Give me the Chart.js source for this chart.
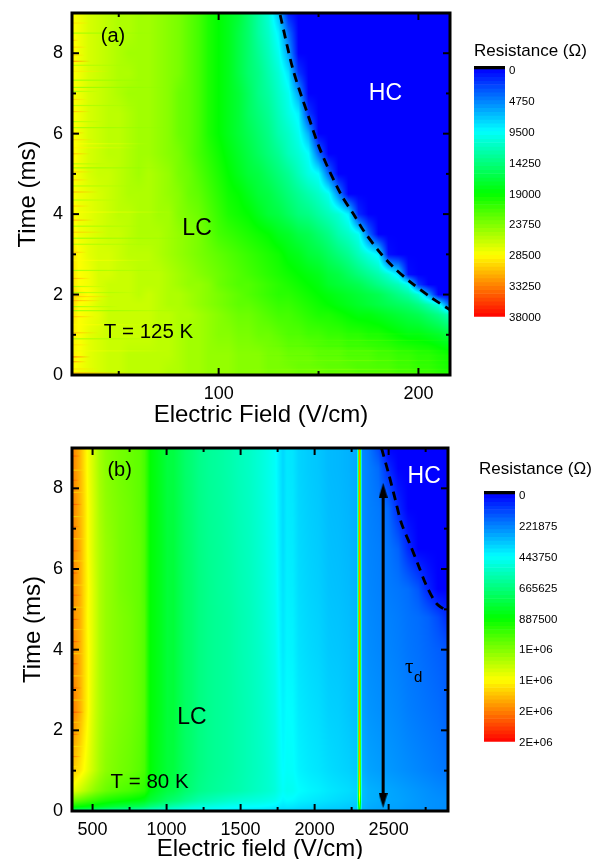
<!DOCTYPE html>
<html>
<head>
<meta charset="utf-8">
<title>Resistance maps</title>
<script src="https://cdn.jsdelivr.net/npm/chart.js@4/dist/chart.umd.js"></script>
<style>
  html, body { margin: 0; padding: 0; background: #fff; overflow: hidden; }
  #page { position: relative; width: 605px; height: 859px; overflow: hidden; }
  canvas { position: absolute; }
</style>
</head>
<body>
<div id="page">
  <canvas id="chartA" style="left:0;top:0"></canvas>
  <canvas id="barA" style="left:474px;top:38px"></canvas>
  <canvas id="chartB" style="left:0;top:436px"></canvas>
  <canvas id="barB" style="left:479px;top:452px"></canvas>
</div>
<script>
// panel (a), T = 125 K. resistance in kOhm, one row per time, columns = fieldsA
// a row that stops early is 0 for the rest of it (the HC side)
const fieldsA = [27,30,35,40,45,50,55,60,65,70,75,80,85,90,95,100,105,110,115,120,125,130,135,140,145,150,155,160,165,170,175,180,185,190,195,200,205,210,216];
const timesA = [0,0.5,1,1.5,1.75,2,2.25,2.5,3,3.5,4,4.5,5,5.5,6,6.5,7,7.5,8,8.5,9];
const resistanceA = [
  [28.5,28,27.5,27,26.5,26.5,26,26,26,26,25.5,25.5,25,25,24.5,24.5,24.5,24,24,24,23.5,23.5,23.5,23,23,23,22.5,22.5,22.5,22,22,22,22,21.5,21.5,21,21,20.5,20],
  [29,28.5,27.5,27,26.5,26.5,26,26,26,26,26,25.5,25,25,24.5,24.5,24.5,24,24,24,23.5,23.5,23,23,23,22.5,22.5,22.5,22,22,22,21.5,21.5,21,21,20.5,20.5,20,19.5],
  [29,28.5,27.5,27,26.5,26.5,26.5,26.5,26.5,26,26,25.5,25,25,24.5,24,24,23.5,23.5,23,23,22.5,22,22,21.5,21.5,21,21,20.5,20.5,20,20,19.5,19,18.5,18.5,18,17.5,16.5],
  [29.5,28.5,28,27.5,26.5,26.5,26.5,26.5,26.5,26,26,25.5,25.5,25,24.5,24,23.5,23,23,22.5,22,21.5,21.5,21,20.5,20,20,19.5,19,18.5,18.5,18,17.5,17,16.5,16,15,14,12],
  [30,28.5,28,27,26.5,26.5,26.5,26.5,26.5,26,25.5,25.5,25,24.5,24,23.5,23,22.5,22.5,22,21.5,21,21,20.5,20,19.5,19,18.5,18,17.5,17,16.5,16,15.5,15,14,12.5,10.5,3],
  [30,29,28.5,27.5,26.5,26.5,26.5,26,26.5,26,25.5,25.5,25,24.5,24,23.5,23,22.5,22,21.5,21,20.5,20.5,20,19.5,19,18.5,18,17.5,17,16.5,16,15,14,13,11,6,0],
  [29.5,28.5,28,27,26.5,26.5,26.5,26,26,26,25.5,25,24.5,24.5,24,23,22.5,22,22,21.5,21,20.5,20,19.5,19,18.5,17.5,17,16.5,16,15,14,13,12,10,2,0],
  [29.5,28.5,28,27,27,26.5,26.5,26,26,26,25.5,25,24.5,24,23.5,23,22.5,22,21.5,21,20.5,20,19.5,19,18.5,18,17,16.5,15.5,14.5,13.5,12.5,11,8.5,0.5,0],
  [29.5,28.5,27.5,27,27,26.5,26,26,26,25.5,25,24.5,24,23.5,23,22.5,22,21.5,21,20.5,20,19.5,18.5,18,17,16.5,15.5,14.5,13.5,12,10.5,9,0.5,0],
  [29,28,27.5,27,26.5,26.5,26,25.5,25.5,25.5,25,24.5,24,23.5,22.5,21.5,21,20.5,20,19.5,19,18,17.5,16.5,16,15,14,12.5,11.5,10,4,0],
  [29,28,27.5,27,26.5,26,26,25.5,25.5,25,25,24,23.5,23,22,21,20,19.5,19,18,17,16.5,15.5,14.5,14,13,12,11,9,1.5,0],
  [28.5,28,27.5,27,26.5,26,25.5,25.5,25.5,25,24.5,24,23,22.5,21.5,20.5,19.5,19,18,17,16.5,15.5,14.5,13.5,12.5,11.5,10,5,0],
  [28.5,28,27,26.5,26.5,26,25.5,25,25.5,25,24.5,23.5,23,22,21,20,19,18,17,16.5,15.5,14.5,13.5,12,10.5,9.5,4,0],
  [29,28,27,26.5,26,26,25.5,25,25,24.5,24,23.5,22.5,21.5,20.5,19.5,18.5,17.5,16.5,15.5,14.5,13.5,12,11,9.5,4,0],
  [28.5,28,27,26.5,26,26,25.5,25,25,24.5,24,23,22.5,21.5,20,19,18,17,16,15,14,12.5,11.5,10,6.5,0],
  [28.5,28,27,26.5,26,26,25.5,25,25,24.5,24,23,22.5,21.5,20,19,18,17,15.5,14.5,13.5,12,10.5,9,2,0],
  [28.5,28,27,26.5,26,25.5,25,25,25,24.5,24,23,22.5,21.5,20,19,18,17,15.5,14,13,11.5,10,6,0],
  [28.5,28,27,26.5,26,25.5,25.5,25,25,24.5,24,23.5,22.5,21.5,20,19,18,16.5,15,14,12.5,11,8.5,2,0],
  [29,28,27,26.5,26,25.5,25,25,25,24.5,24,23.5,22.5,21.5,20,19,18,16.5,15,13.5,12,10,6,0],
  [28.5,28,27,26.5,26,25.5,25.5,25,25,24.5,24,23.5,22.5,21.5,20,19,18,16.5,15,13,11.5,9,4,0],
  [28.5,28,27,26.5,26,25.5,25.5,25,25,24.5,24,23.5,22.5,21.5,20,19,18,17,15,13,11,7,1,0]
];
// thin noisy lines along the time axis: time, start field, end field, kOhm
const streakTimesA = [8.75,8.32,8.15,7.95,7.8,7.55,7.33,7.05,6.85,6.55,6.3,6.02,5.85,5.65,5.5,5.25,5.05,4.85,4.55,4.35,4.2,3.85,3.55,3.25,3.05,2.4,2.2,1.95,1.85,1.7,1.45,1.05,0.75,0.45,0.33,0.15,0.05,8.5,7.7,7.15,6.7,6.15,5.75,5.15,4.7,4.05,3.7,3.4,2.85,2.6,2.05,1.6,1.25,0.9,0.6,1.02,0.86,0.72,0.6,0.48,0.36,0.25,0.14,0.06];
const streakStartsA = [27,27,27,27,27,27,27,27,27,27,27,27,27,27,27,27,27,27,27,27,27,27,27,27,27,27,27,27,27,27,27,27,27,27,27,27,27,27,27,27,27,27,27,27,27,27,27,27,27,27,27,27,27,27,27,125,130,120,135,115,125,130,110,120];
const streakEndsA = [36,30,34,33,36,46,64,40,34,36,42,33,38,60,36,44,38,35,40,50,36,38,44,70,34,36,44,48,42,50,38,40,36,36,34,40,60,70,55,75,60,80,65,72,58,78,62,85,68,74,60,82,64,70,76,216,216,216,216,216,216,216,216,216];
const streakValuesA = [30,31.5,31,30.5,34,29.5,23.5,24,30.5,31.5,24.5,32,30.5,29,31.5,24.5,30.5,31,32,24.5,31,32.5,31,24.5,31.5,32,24,31,32,23.5,31.5,31.5,30,35,33,30,33,24,24.5,23.5,24.5,24,28.5,23.5,24.5,28.5,24,23.5,28.5,24,24,23.5,28.5,24,28,21,23,20,24,21,25,22,25.5,24];
// dashed line between LC and HC
const boundaryFieldsA = [130.8,137.3,144.4,150.9,160.9,168.4,172.4,181,187.5,196,206,215.8];
const boundaryTimesA = [8.95,7.58,6.51,5.59,4.52,3.93,3.6,3.03,2.68,2.31,1.94,1.62];
const xTicksA = [100,200];
const xMinorA = [50,150];

// panel (b), T = 80 K. resistance in kOhm, columns = fieldsB
const fieldsB = [361,388,415,442,468,495,522,549,589,630,683,751,818,851,872,892,925,966,1006,1046,1087,1127,1167,1221,1288,1355,1423,1490,1557,1624,1691,1732,1759,1786,1813,1853,1893,1960,2028,2095,2162,2229,2288,2294,2303,2312,2318,2364,2431,2498,2565,2632,2700,2767,2834,2901];
const timesB = [0,0.1,0.25,0.5,1,2.5,4,4.8,5.5,6.5,7.5,8.5,9];
const resistanceB = [
  [660,650,640,630,620,610,600,590,570,560,550,530,510,500,490,480,470,455,445,440,435,430,425,420,415,410,405,400,395,390,385,380,375,370,370,365,360,355,350,345,340,335,330,600,800,600,310,295,285,280,275,265,260,250,245,240],
  [900,890,880,870,860,850,840,830,810,790,770,750,730,710,690,670,650,620,600,580,560,540,520,500,490,475,460,450,445,440,430,420,410,400,405,400,390,380,375,365,360,350,345,700,1000,700,320,300,290,285,280,270,265,255,250,245],
  [1080,1060,1040,1020,1000,985,970,950,930,915,900,880,860,840,810,790,770,740,710,690,670,640,620,590,570,550,530,515,505,495,480,470,450,430,440,435,420,410,400,390,380,370,360,800,1250,800,330,310,300,290,285,275,265,255,250,245],
  [1300,1270,1240,1210,1180,1150,1120,1100,1070,1050,1030,1010,980,960,910,860,830,800,770,760,730,700,680,650,630,615,600,585,565,545,525,505,480,455,470,465,445,430,420,405,395,385,370,850,1400,850,335,310,300,290,280,270,260,250,240,235],
  [1430,1400,1370,1330,1290,1250,1210,1170,1130,1110,1090,1070,1040,1010,940,880,850,820,790,780,745,715,695,665,640,625,610,590,570,550,525,500,470,440,455,450,425,410,400,385,375,365,350,888,1500,888,310,285,275,265,255,245,235,225,215,205],
  [1560,1520,1470,1400,1340,1280,1230,1190,1150,1130,1110,1090,1060,1030,950,880,860,830,790,790,750,715,700,665,640,625,610,590,570,545,515,490,455,425,445,440,410,395,385,365,360,345,330,888,1550,888,285,260,250,245,235,220,210,200,190,170],
  [1540,1510,1470,1400,1340,1290,1240,1190,1150,1130,1110,1090,1060,1030,950,880,860,830,790,790,750,715,700,665,640,625,610,585,565,540,505,480,440,405,430,425,395,380,370,350,345,335,320,888,1550,888,270,245,235,230,220,205,195,180,165,150],
  [1540,1500,1470,1400,1330,1290,1240,1190,1150,1130,1110,1090,1060,1030,950,880,860,830,790,790,750,715,700,665,640,625,610,585,565,535,500,475,435,400,425,420,390,375,365,345,340,330,315,888,1550,888,265,240,230,225,215,200,190,170,130,70],
  [1540,1510,1470,1400,1340,1290,1240,1190,1150,1130,1100,1080,1060,1020,950,880,860,830,790,790,750,715,700,665,640,620,605,580,560,530,495,470,430,395,420,415,385,370,360,340,335,325,310,888,1550,888,260,235,225,215,205,190,150,60,0,0],
  [1550,1510,1470,1400,1330,1280,1230,1190,1150,1130,1100,1080,1060,1020,950,880,860,830,790,785,745,715,695,660,635,620,600,575,555,525,490,465,425,385,415,410,380,365,355,335,330,320,305,888,1550,888,255,230,220,205,170,70,0,0,0,0],
  [1550,1510,1460,1400,1330,1280,1230,1180,1140,1120,1100,1080,1050,1020,950,880,860,825,785,780,745,710,690,655,630,615,595,570,550,520,485,460,420,380,410,405,375,360,350,330,325,315,300,888,1550,888,250,225,210,180,70,0,0,0,0,0],
  [1550,1510,1460,1390,1320,1270,1220,1170,1130,1110,1090,1070,1050,1010,950,880,855,820,780,775,740,705,685,650,625,610,590,565,545,515,480,455,415,375,405,400,370,355,345,325,320,310,295,888,1550,888,245,220,185,70,0,0,0,0,0,0],
  [1550,1510,1460,1390,1320,1270,1220,1170,1130,1110,1090,1070,1050,1010,950,880,855,820,780,775,740,705,685,650,625,610,590,565,545,515,480,455,415,375,405,400,370,355,345,325,320,310,295,888,1550,888,240,210,130,0,0,0,0,0,0,0]
];
const streakTimesB = [8.8,8.45,8.2,7.9,7.6,7.3,7.05,6.75,6.45,6.2,5.9,5.6,5.35,5.05,4.75,4.5,4.2,3.9,3.65,3.35,3.05,2.75,2.45,2.2,1.9,1.6,1.35,1.1];
const streakStartsB = new Array(streakTimesB.length).fill(361);
const streakEndsB = [420,450,410,460,430,450,415,470,425,455,410,460,430,450,415,470,425,450,410,460,430,465,445,430,415,455,425,410];
const streakValuesB = [1660,1320,1640,1350,1680,1300,1620,1360,1660,1330,1700,1340,1640,1300,1680,1360,1660,1320,1710,1340,1660,1300,1690,1350,1660,1320,1620,1340];
const boundaryFieldsB = [2452,2498,2545,2585,2646,2700,2753,2820,2895];
const boundaryTimesB = [9,8.39,7.72,7.15,6.6,6.1,5.61,5.16,4.95];
const arrowFieldsB = [2463,2463];
const arrowTimesB = [0.26,7.95];
const xTicksB = [500,1000,1500,2000,2500];
const xMinorB = [750,1250,1750,2250,2750];

const yTicks = [0,2,4,6,8];
const yMinor = [1,3,5,7];

// colour bars, values in Ohm
const barTicksA = [0,4750,9500,14250,19000,23750,28500,33250,38000];
const barLabelsA = ["0","4750","9500","14250","19000","23750","28500","33250","38000"];
const barTicksB = [0,221875,443750,665625,887500,1109375,1331250,1553125,1775000];
const barLabelsB = ["0","221875","443750","665625","887500","1E+06","1E+06","2E+06","2E+06"];

const FONT = "'Liberation Sans', Arial, sans-serif";

function rainbow(f) {
  const stops = [[0,0,255],[0,255,255],[0,255,0],[255,255,0],[255,0,0]];
  f = Math.min(1, Math.max(0, f)) * 4;
  const i = Math.min(3, Math.floor(f));
  const k = f - i;
  return stops[i].map((c, n) => Math.round(c + (stops[i + 1][n] - c) * k));
}

function findCell(list, v) {
  let i = 0;
  while (i < list.length - 2 && v > list[i + 1]) i++;
  const k = (v - list[i]) / (list[i + 1] - list[i]);
  return [i, Math.min(1, Math.max(0, k))];
}

// paints the grid under the datasets, one device pixel at a time through the scales
function heatmapPlugin(fields, times, rows, vmax, streaks) {
  return {
    id: "heatmap",
    beforeDatasetsDraw(chart) {
      const { ctx, chartArea: a, scales: { x, y } } = chart;
      const w = Math.round(a.right - a.left);
      const h = Math.round(a.bottom - a.top);
      const off = document.createElement("canvas");
      off.width = w;
      off.height = h;
      const octx = off.getContext("2d");
      const img = octx.createImageData(w, h);
      const cols = [];
      for (let px = 0; px < w; px++) cols.push(findCell(fields, x.getValueForPixel(a.left + px + 0.5)));
      for (let py = 0; py < h; py++) {
        const [r, kr] = findCell(times, y.getValueForPixel(a.top + py + 0.5));
        const r0 = rows[r], r1 = rows[r + 1];
        for (let px = 0; px < w; px++) {
          const [c, kc] = cols[px];
          const low = (r0[c] ?? 0) * (1 - kc) + (r0[c + 1] ?? 0) * kc;
          const high = (r1[c] ?? 0) * (1 - kc) + (r1[c + 1] ?? 0) * kc;
          const rgb = rainbow((low * (1 - kr) + high * kr) / vmax);
          const o = (py * w + px) * 4;
          img.data[o] = rgb[0];
          img.data[o + 1] = rgb[1];
          img.data[o + 2] = rgb[2];
          img.data[o + 3] = 255;
        }
      }
      octx.putImageData(img, 0, 0);
      ctx.drawImage(off, a.left, a.top);

      // streaks fade out towards their far end
      streaks.times.forEach((t, i) => {
        const x0 = x.getPixelForValue(streaks.starts[i]);
        const x1 = x.getPixelForValue(streaks.ends[i]);
        const c = rainbow(streaks.values[i] / vmax).join(",");
        const g = ctx.createLinearGradient(x0, 0, x1, 0);
        const wide = streaks.starts[i] > fields[0];
        g.addColorStop(0, wide ? `rgba(${c},0)` : `rgba(${c},0.7)`);
        if (wide) g.addColorStop(0.5, `rgba(${c},0.3)`);
        g.addColorStop(1, wide ? `rgba(${c},0.05)` : `rgba(${c},0)`);
        ctx.fillStyle = g;
        ctx.fillRect(x0, y.getPixelForValue(t) - 0.6, x1 - x0, 1.2);
      });
    }
  };
}

// thick box with ticks pointing inwards on all four sides
function framePlugin(xMajor, xMinor) {
  return {
    id: "frame",
    afterDatasetsDraw(chart) {
      const { ctx, chartArea: a, scales: { x, y } } = chart;
      ctx.save();
      ctx.strokeStyle = "#000";
      ctx.lineWidth = 2;
      const tick = (x0, y0, x1, y1) => {
        ctx.beginPath();
        ctx.moveTo(x0, y0);
        ctx.lineTo(x1, y1);
        ctx.stroke();
      };
      const doX = (list, len) => list.forEach(v => {
        const p = x.getPixelForValue(v);
        tick(p, a.top, p, a.top + len);
        tick(p, a.bottom, p, a.bottom - len);
      });
      const doY = (list, len) => list.forEach(v => {
        const p = y.getPixelForValue(v);
        tick(a.left, p, a.left + len, p);
        tick(a.right, p, a.right - len, p);
      });
      doX(xMajor, 7);
      doX(xMinor, 4);
      doY(yTicks, 7);
      doY(yMinor, 4);
      ctx.lineWidth = 3;
      ctx.strokeRect(a.left, a.top, a.right - a.left, a.bottom - a.top);
      ctx.restore();
    }
  };
}

function notesPlugin(notes) {
  return {
    id: "notes",
    afterDraw(chart) {
      const { ctx, scales: { x, y } } = chart;
      ctx.save();
      ctx.textAlign = "center";
      ctx.textBaseline = "middle";
      notes.forEach(n => {
        ctx.font = n.font;
        ctx.fillStyle = n.color || "#000";
        ctx.fillText(n.text, x.getPixelForValue(n.x), y.getPixelForValue(n.y));
      });
      ctx.restore();
    }
  };
}

function arrowHead() {
  const c = document.createElement("canvas");
  c.width = 9;
  c.height = 15;
  const g = c.getContext("2d");
  g.beginPath();
  g.moveTo(4.5, 0);
  g.lineTo(9, 15);
  g.lineTo(0, 15);
  g.closePath();
  g.fill();
  return c;
}

function toPoints(xs, ys) {
  return xs.map((v, i) => ({ x: v, y: ys[i] }));
}

// no extra room for the outermost tick labels, the plot box stays where it is put
function noScalePadding(s) {
  s.paddingTop = 0;
  s.paddingBottom = 0;
  s.paddingLeft = 0;
  s.paddingRight = 0;
}

function makePanel(id, cfg) {
  return new Chart(document.getElementById(id), {
    type: "line",
    data: { datasets: cfg.datasets },
    options: {
      responsive: false,
      animation: false,
      devicePixelRatio: 1,
      layout: { padding: { left: 0, top: cfg.top, right: 6, bottom: 2 } },
      plugins: { legend: { display: false }, tooltip: { enabled: false } },
      scales: {
        x: {
          type: "linear",
          min: cfg.xMin,
          max: cfg.xMax,
          afterFit: s => { s.height = 55; noScalePadding(s); },
          afterBuildTicks: s => { s.ticks = cfg.xTicks.map(v => ({ value: v })); },
          grid: { display: false, drawTicks: false },
          border: { display: false },
          ticks: { color: "#000", font: { family: FONT, size: 18 }, padding: 8, maxRotation: 0, autoSkip: false, callback: v => String(v) },
          title: { display: true, text: cfg.xTitle, color: "#000", font: { family: FONT, size: 24 }, padding: { top: 0, bottom: cfg.xTitlePad } }
        },
        y: {
          type: "linear",
          min: 0,
          max: 9,
          afterFit: s => { s.width = 72; noScalePadding(s); },
          afterBuildTicks: s => { s.ticks = yTicks.map(v => ({ value: v })); },
          grid: { display: false, drawTicks: false },
          border: { display: false },
          ticks: { color: "#000", font: { family: FONT, size: 18 }, padding: 9, autoSkip: false, callback: v => String(v) },
          title: { display: true, text: "Time (ms)", color: "#000", font: { family: FONT, size: 24 }, padding: { top: cfg.yTitlePad, bottom: 0 } }
        }
      }
    },
    plugins: [
      heatmapPlugin(cfg.fields, cfg.times, cfg.rows, cfg.vmax, cfg.streaks),
      framePlugin(cfg.xTicks, cfg.xMinor),
      notesPlugin(cfg.notes)
    ]
  });
}

function makeBar(id, cfg) {
  const levels = 64;
  const max = cfg.ticks[cfg.ticks.length - 1];
  const datasets = [{ data: [[cfg.min, 0]], backgroundColor: "#000" }];
  for (let i = 0; i < levels; i++) {
    const lo = max * i / levels;
    const hi = max * (i + 1) / levels;
    datasets.push({ data: [[lo, hi]], backgroundColor: `rgb(${rainbow((i + 0.5) / levels).join(",")})` });
  }
  datasets.forEach(d => {
    d.grouped = false;
    d.barPercentage = 1;
    d.categoryPercentage = 1;
    d.borderWidth = 0;
  });
  return new Chart(document.getElementById(id), {
    type: "bar",
    data: { labels: ["R"], datasets },
    options: {
      responsive: false,
      animation: false,
      devicePixelRatio: 1,
      layout: { padding: cfg.padding },
      plugins: { legend: { display: false }, tooltip: { enabled: false } },
      scales: {
        x: { display: false },
        y: {
          position: "right",
          reverse: true,
          min: cfg.min,
          max,
          afterFit: s => { s.width = cfg.axisWidth; noScalePadding(s); },
          afterBuildTicks: s => { s.ticks = cfg.ticks.map(v => ({ value: v })); },
          grid: { display: false, drawTicks: false },
          border: { display: false },
          ticks: {
            color: "#000",
            font: { family: FONT, size: 11.5 },
            padding: 4,
            autoSkip: false,
            labelOffset: 1.5,
            callback: (v, i) => cfg.labels[i]
          }
        }
      }
    },
    plugins: [{
      id: "barTitle",
      afterDraw(chart) {
        const ctx = chart.ctx;
        ctx.save();
        ctx.font = `17px ${FONT}`;
        ctx.fillStyle = "#000";
        ctx.textBaseline = "middle";
        ctx.fillText("Resistance (Ω)", 0, cfg.titleY);
        ctx.restore();
      }
    }]
  });
}

function sizeCanvas(id, w, h) {
  const c = document.getElementById(id);
  c.width = w;
  c.height = h;
}

sizeCanvas("chartA", 456, 432);
sizeCanvas("chartB", 456, 432);
sizeCanvas("barA", 131, 300);
sizeCanvas("barB", 126, 310);

const dashStyle = { borderColor: "#000", borderWidth: 2.8, borderDash: [9, 6], pointRadius: 0, tension: 0.3, fill: false };

makePanel("chartA", {
  top: 13, xMin: 26.6, xMax: 215.8, xTicks: xTicksA, xMinor: xMinorA,
  xTitle: "Electric Field (V/cm)", xTitlePad: 0, yTitlePad: 13.6,
  fields: fieldsA, times: timesA, rows: resistanceA, vmax: 38,
  streaks: { times: streakTimesA, starts: streakStartsA, ends: streakEndsA, values: streakValuesA },
  datasets: [{ data: toPoints(boundaryFieldsA, boundaryTimesA), ...dashStyle }],
  notes: [
    { text: "(a)", x: 47.1, y: 8.42, font: `20px ${FONT}` },
    { text: "HC", x: 183.5, y: 7.0, font: `23px ${FONT}`, color: "#fff" },
    { text: "LC", x: 89.2, y: 3.63, font: `23px ${FONT}` },
    { text: "T = 125 K", x: 64.9, y: 1.05, font: `20.5px ${FONT}` }
  ]
});

makePanel("chartB", {
  top: 12, xMin: 361, xMax: 2901, xTicks: xTicksB, xMinor: xMinorB,
  xTitle: "Electric field (V/cm)", xTitlePad: 2.6, yTitlePad: 18.6,
  fields: fieldsB, times: timesB, rows: resistanceB, vmax: 1775,
  streaks: { times: streakTimesB, starts: streakStartsB, ends: streakEndsB, values: streakValuesB },
  datasets: [
    { data: toPoints(boundaryFieldsB, boundaryTimesB), ...dashStyle },
    {
      data: toPoints(arrowFieldsB, arrowTimesB),
      borderColor: "#000",
      borderWidth: 3,
      pointRadius: 5,
      pointStyle: arrowHead(),
      pointRotation: [180, 0],
      fill: false
    }
  ],
  notes: [
    { text: "(b)", x: 683, y: 8.44, font: `20px ${FONT}` },
    { text: "HC", x: 2740, y: 8.29, font: `23px ${FONT}`, color: "#fff" },
    { text: "LC", x: 1171, y: 2.31, font: `23px ${FONT}` },
    { text: "T = 80 K", x: 885, y: 0.72, font: `20.5px ${FONT}` },
    { text: "τ", x: 2639, y: 3.55, font: "21px 'Liberation Serif', serif" },
    { text: "d", x: 2699, y: 3.3, font: `15px ${FONT}` }
  ]
});

makeBar("barA", {
  ticks: barTicksA, labels: barLabelsA, min: -460, axisWidth: 100, titleY: 13,
  padding: { left: 0, top: 28, right: 0, bottom: 21.3 }
});

makeBar("barB", {
  ticks: barTicksB, labels: barLabelsB, min: -21500, axisWidth: 90, titleY: 17,
  padding: { left: 5, top: 39, right: 0, bottom: 20.3 }
});
</script>
</body>
</html>
